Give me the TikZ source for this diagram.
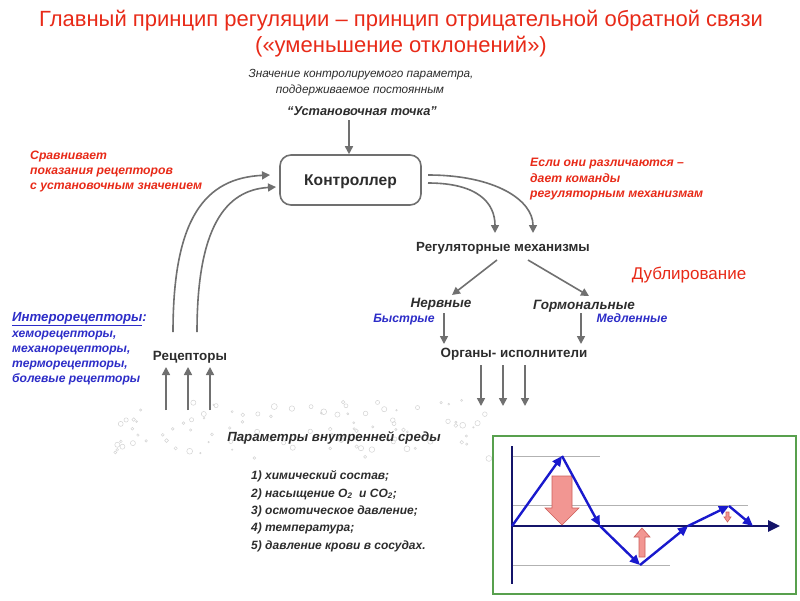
\documentclass[tikz,border=0pt]{standalone}
\usepackage{fontspec}
\setmainfont{Liberation Sans}
\usetikzlibrary{arrows.meta}
\definecolor{tred}{RGB}{232,42,24}
\definecolor{tblue}{RGB}{45,45,200}
\definecolor{tdark}{RGB}{45,45,45}
\definecolor{conng}{RGB}{112,112,112}
\definecolor{boxg}{RGB}{88,160,78}
\definecolor{gblue}{RGB}{25,25,205}
\definecolor{gnavy}{RGB}{20,20,105}
\definecolor{pinkf}{RGB}{242,150,146}
\definecolor{pinkd}{RGB}{205,95,90}
\definecolor{bub}{RGB}{212,212,212}
\begin{document}
\begin{tikzpicture}[x=1pt,y=-1pt,
  txt/.style={inner sep=0pt, text=tdark, anchor=base},
  lft/.style={txt, anchor=base west},
  conn/.style={draw=conng, line width=1.6pt, -{Triangle[length=8pt,width=8pt]}},
  gline/.style={draw=gblue, line width=2.4pt, -{Triangle[length=10pt,width=9pt]}},
  pinkarrow/.style={fill=pinkf, draw=pinkd, line width=0.6pt},
  rednote/.style={lft, text=tred, font=\fontsize{12.2}{14}\bfseries\itshape},
  bluenote/.style={lft, text=tblue, font=\fontsize{12.1}{14}\bfseries\itshape},
  listitem/.style={lft, font=\fontsize{12}{14}\bfseries\itshape}
]
\useasboundingbox (0,0) rectangle (800,600);
\fill[white] (0,0) rectangle (800,600);

% bubbles
\pgfmathsetseed{11}
\foreach \i in {1,...,100}{
  \pgfmathsetmacro\xx{115+380*rnd}
  \pgfmathsetmacro\yy{400+60*rnd}
  \pgfmathsetmacro\rr{0.7+2.3*rnd}
  \draw[bub, line width=0.5pt] (\xx,\yy) circle (\rr pt);
}

% title
\node[txt, text=tred, font=\fontsize{22}{26}\selectfont] (t1) at (401,26) {Главный принцип регуляции – принцип отрицательной обратной связи};
\node[txt, text=tred, font=\fontsize{22}{26}\selectfont] (t2) at (401,52) {(«уменьшение отклонений»)};

% set point
\node[txt, font=\fontsize{11.8}{14}\itshape] (sp1) at (361,77) {Значение контролируемого параметра,};
\node[txt, font=\fontsize{11.8}{14}\itshape] (sp2) at (360,93) {поддерживаемое постоянным};
\node[txt, font=\fontsize{12.8}{15}\bfseries\itshape] (sp) at (362,115) {“Установочная точка”};

% controller
\node[draw=conng, line width=1.6pt, rounded corners=11pt, minimum width=141pt, minimum height=50pt, inner sep=0pt, text height=14pt, text depth=2.8pt, text=tdark, font=\fontsize{15.6}{18}\bfseries] (ctrl) at (350.5,180) {Контроллер};
\coordinate (spa) at (349,120);
\draw[conn] (spa) -- (spa |- ctrl.north);

% red notes
\node[rednote] (r1) at (30,159) {Сравнивает};
\node[rednote] (r2) at (30,174) {показания рецепторов};
\node[rednote] (r3) at (30,189) {с установочным значением};
\node[rednote] (e1) at (530,166) {Если они различаются –};
\node[rednote] (e2) at (530,182) {дает команды};
\node[rednote] (e3) at (530,197) {регуляторным механизмам};

% regulatory
\node[txt, font=\fontsize{13.3}{15}\bfseries] (reg) at (503,251) {Регуляторные механизмы};
\node[txt, text=tred, font=\fontsize{17}{20}\selectfont] (dub) at (689,279) {Дублирование};
\node[txt, font=\fontsize{13.5}{15}\bfseries\itshape] (nerv) at (441,307.5) {Нервные};
\node[txt, font=\fontsize{13.5}{15}\bfseries\itshape] (horm) at (584,309.5) {Гормональные};
\node[txt, text=tblue, font=\fontsize{12.2}{14}\bfseries\itshape] (fast) at (404,322) {Быстрые};
\node[txt, text=tblue, font=\fontsize{12.2}{14}\bfseries\itshape] (slow) at (632,322) {Медленные};
\node[txt, font=\fontsize{13.4}{15}\bfseries] (org) at (514,357.5) {Органы- исполнители};

\coordinate (c1s) at (428,175);
\coordinate (c1e) at (533,233);
\coordinate (c2s) at (428,183);
\coordinate (c2e) at (495,233);
\draw[conn] (c1s) .. controls (495,175) and (533,200) .. (c1e);
\draw[conn] (c2s) .. controls (478,183) and (495,203) .. (c2e);
\coordinate (rn1) at (497,260);
\coordinate (rn2) at (452,295);
\coordinate (rh1) at (528,260);
\coordinate (rh2) at (589,296);
\draw[conn] (rn1) -- (rn2);
\draw[conn] (rh1) -- (rh2);
\coordinate (nv1) at (444,313);
\coordinate (hm1) at (581,313);
\draw[conn] (nv1) -- (444,344);
\draw[conn] (hm1) -- (581,344);

% effector arrows
\coordinate (eo1) at (481,406);
\coordinate (eo2) at (503,406);
\coordinate (eo3) at (525,406);
\draw[conn] (481,365) -- (eo1);
\draw[conn] (503,365) -- (eo2);
\draw[conn] (525,365) -- (eo3);

% receptors
\node[txt, font=\fontsize{13.4}{15}\bfseries] (rec) at (190,360) {Рецепторы};
\coordinate (rc1) at (173,332);
\coordinate (rc2) at (197,332);
\coordinate (ce1) at (270,175);
\coordinate (ce2) at (276,187);
\draw[conn] (rc1) .. controls (173,218) and (205,178) .. (ce1);
\draw[conn] (rc2) .. controls (197,228) and (225,190) .. (ce2);
\coordinate (ri1) at (166,410);
\coordinate (ri2) at (188,410);
\coordinate (ri3) at (210,410);
\draw[conn] (ri1) -- (166,367);
\draw[conn] (ri2) -- (188,367);
\draw[conn] (ri3) -- (210,367);

% interoreceptors
\node[bluenote, font=\fontsize{13.2}{15}\bfseries\itshape] (i0) at (12,321) {\underline{Интерорецепторы}:};
\node[bluenote] (i1) at (12,337) {хеморецепторы,};
\node[bluenote] (i2) at (12,352) {механорецепторы,};
\node[bluenote] (i3) at (12,367) {терморецепторы,};
\node[bluenote] (i4) at (12,382) {болевые рецепторы};

% internal environment
\node[txt, font=\fontsize{13.3}{15}\bfseries\itshape] (env) at (334,441.5) {Параметры внутренней среды};
\node[listitem] (l1) at (251,479) {1) химический состав;};
\node[listitem] (l2) at (251,497) {2) насыщение O\textsubscript{2}\ \ и CO\textsubscript{2};};
\node[listitem] (l3) at (251,514) {3) осмотическое давление;};
\node[listitem] (l4) at (251,531) {4) температура;};
\node[listitem] (l5) at (251,549) {5) давление крови в сосудах.};

% graph box
\fill[white] (493,436) rectangle (796,594);
\draw[boxg, line width=2pt] (493,436) rectangle (796,594);
\draw[gray!60, line width=0.8pt] (512,456) -- (600,456);
\draw[gray!60, line width=0.8pt] (512,505) -- (748,505);
\draw[gray!60, line width=0.8pt] (512,565) -- (670,565);
\draw[gnavy, line width=2.6pt] (512,446) -- (512,584);
\draw[gnavy, line width=2.6pt, -{Triangle[length=12pt,width=11pt]}] (511,526) -- (780,526);
% pink arrows
\draw[pinkarrow] (552,476) -- (572,476) -- (572,508) -- (579,508) -- (562,525) -- (545,508) -- (552,508) -- cycle;
\draw[pinkarrow] (639,557) -- (645,557) -- (645,537) -- (650,537) -- (642,528) -- (634,537) -- (639,537) -- cycle;
\draw[pinkarrow] (726,512) -- (729,512) -- (729,517) -- (731,517) -- (727.5,522) -- (724,517) -- (726,517) -- cycle;
% blue zigzag
\coordinate (g0) at (512,526);
\coordinate (g1) at (562,456);
\coordinate (g2) at (600,526);
\coordinate (g3) at (640,565);
\coordinate (g4) at (688,526);
\coordinate (g5) at (729,506);
\coordinate (g6) at (753,526);
\draw[gline] (g0) -- (g1);
\draw[gline] (g1) -- (g2);
\draw[gline] (g2) -- (g3);
\draw[gline] (g3) -- (g4);
\draw[gline] (g4) -- (g5);
\draw[gline] (g5) -- (g6);
\end{tikzpicture}
\end{document}
